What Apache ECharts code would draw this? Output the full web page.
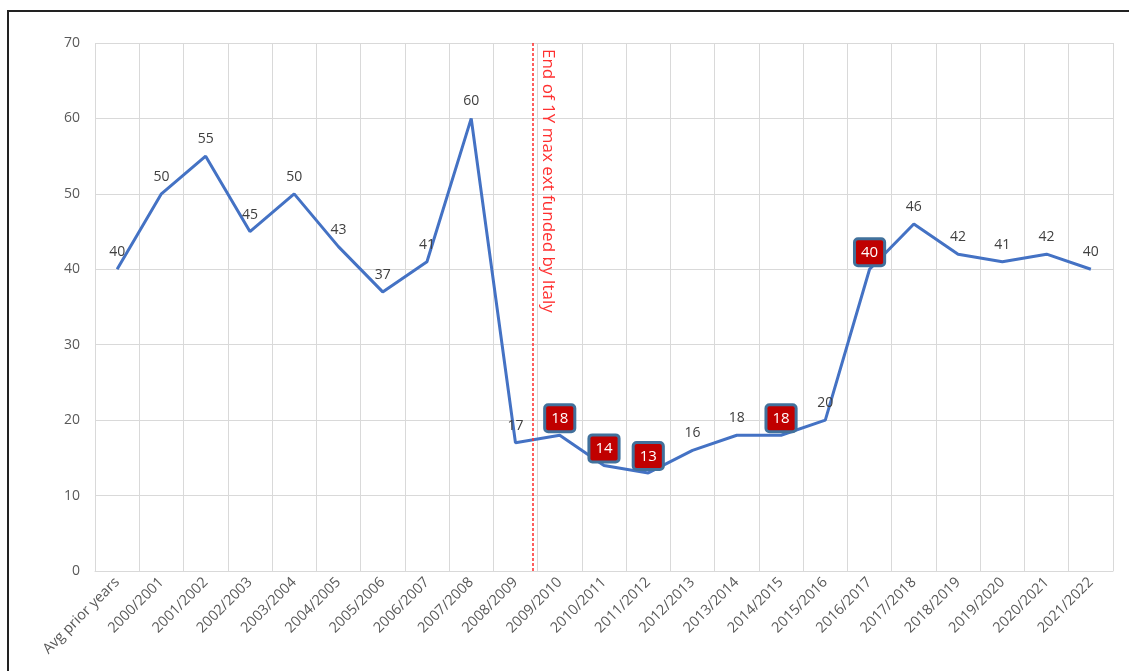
<!DOCTYPE html>
<html>
<head>
<meta charset="utf-8">
<script src="https://cdn.jsdelivr.net/npm/echarts@6/dist/echarts.min.js"></script>
<style>
  html, body { margin: 0; padding: 0; background: #fff; }
  #chart { width: 1129px; height: 671px; }
  #frame {
    position: absolute; left: 7px; top: 10px; width: 1300px; height: 800px;
    border-left: 2px solid #222; border-top: 2px solid #222; pointer-events: none;
  }
</style>
</head>
<body>
<div id="chart"></div>
<div id="frame"></div>
<script>
var seasons = ['Avg prior years', '2000/2001', '2001/2002', '2002/2003', '2003/2004', '2004/2005',
  '2005/2006', '2006/2007', '2007/2008', '2008/2009', '2009/2010', '2010/2011', '2011/2012',
  '2012/2013', '2013/2014', '2014/2015', '2015/2016', '2016/2017', '2017/2018', '2018/2019',
  '2019/2020', '2020/2021', '2021/2022'];
var values = [40, 50, 55, 45, 50, 43, 37, 41, 60, 17, 18, 14, 13, 16, 18, 18, 20, 40, 46, 42, 41, 42, 40];
// seasons whose label is shown in a red box
var flagged = ['2009/2010', '2010/2011', '2011/2012', '2014/2015', '2016/2017'];
var yTicks = [0, 10, 20, 30, 40, 50, 60, 70];
// where the dotted cut-off line sits, counted in category widths from the left edge
var cutoffPos = 9.9;
var cutoffText = 'End of 1Y max ext funded by Italy';

var grey = '#d9d9d9';
var font = '"Open Sans", "Noto Sans", sans-serif';

var seriesData = values.map(function (v, i) {
  if (flagged.indexOf(seasons[i]) < 0) return v;
  return {
    value: v,
    label: {
      color: '#fff',
      fontSize: 15,
      backgroundColor: '#c00000',
      borderColor: '#41719c',
      borderWidth: 3,
      borderRadius: 2,
      padding: [5, 5, 4, 5],
      distance: 5
    }
  };
});

var myChart = echarts.init(document.getElementById('chart'));
var option = {
  backgroundColor: '#fff',
  animation: false,
  textStyle: { fontFamily: font },
  grid: { left: 95, right: 16, top: 43, bottom: 100, containLabel: false },
  xAxis: [{
    type: 'category',
    data: seasons,
    boundaryGap: true,
    axisLine: { lineStyle: { color: grey, width: 1 } },
    axisTick: { show: false },
    splitLine: { show: true, interval: 0, lineStyle: { color: grey } },
    axisLabel: { interval: 0, rotate: 45, margin: 9, color: '#595959', fontSize: 14.5, fontFamily: font }
  }, {
    type: 'value',
    show: false,
    min: 0,
    max: seasons.length
  }],
  yAxis: {
    type: 'value',
    min: yTicks[0],
    max: yTicks[yTicks.length - 1],
    interval: yTicks[1] - yTicks[0],
    axisLine: { show: false },
    axisTick: { show: false },
    splitLine: { lineStyle: { color: grey } },
    axisLabel: { margin: 15, color: '#595959', fontSize: 14, fontFamily: font }
  },
  series: [{
    type: 'line',
    data: seriesData,
    symbol: 'circle',
    symbolSize: 0,
    lineStyle: { color: '#4472c4', width: 3 },
    itemStyle: { color: '#4472c4' },
    label: { show: true, position: 'top', distance: 10, color: '#404040', fontSize: 14, fontFamily: font }
  }, {
    type: 'line',
    xAxisIndex: 1,
    data: [],
    markLine: {
      silent: true,
      symbol: ['none', 'none'],
      lineStyle: { color: '#ff2a2a', type: [3, 2], width: 1.5 },
      label: {
        show: true,
        position: 'insideStartTop',
        formatter: cutoffText,
        color: '#ff3030',
        fontSize: 17,
        fontFamily: font,
        distance: 6
      },
      data: [[{ coord: [cutoffPos, yTicks[yTicks.length - 1]] }, { coord: [cutoffPos, 0] }]]
    }
  }]
};
myChart.setOption(option);
</script>
</body>
</html>
